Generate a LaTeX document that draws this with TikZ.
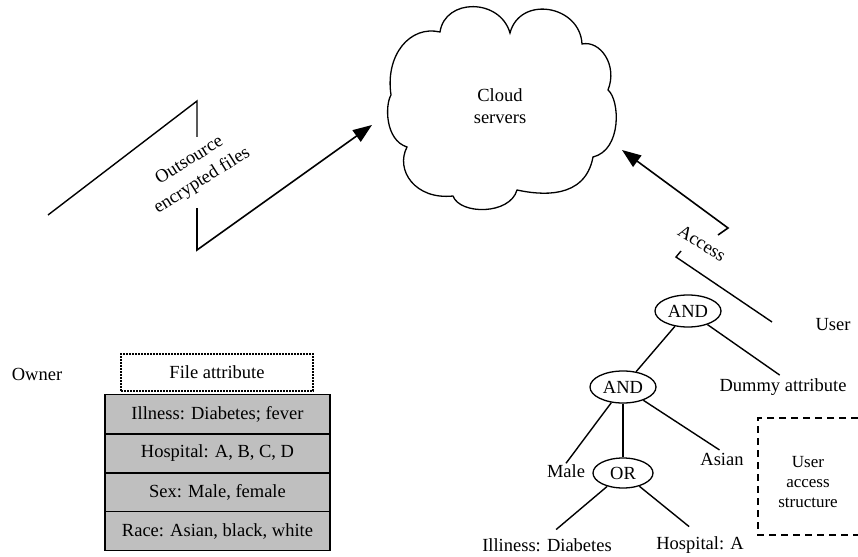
\documentclass[tikz,border=0pt]{standalone}
\usepackage{fontspec}
\setmainfont{Liberation Serif}
\usetikzlibrary{shapes.geometric,arrows.meta}

\tikzset{
  gate/.style={draw, ellipse, line width=1.3pt, minimum width=66pt, minimum height=32pt, inner sep=0pt},
  leaf/.style={inner sep=1pt},
  row/.style={draw, fill=black!25, line width=1.3pt, minimum width=225pt, minimum height=39pt, inner sep=0pt},
  link/.style={line width=1.4pt},
  flow/.style={line width=1.6pt, -{Triangle[length=19pt,width=14pt]}},
}

\begin{document}
\begin{tikzpicture}[x=1pt,y=-1pt,font=\fontsize{18.5}{22}\selectfont]
\useasboundingbox (0,0) rectangle (858,556);
% cloud
\draw[line width=1.3pt] (440,32) .. controls (445,-2) and (500,-2) .. (510,33)
  .. controls (520,-5) and (580,5) .. (582,44)
  .. controls (600,40) and (618,65) .. (608,90)
  .. controls (620,100) and (622,150) .. (593,157)
  .. controls (585,200) and (540,195) .. (517,190)
  .. controls (510,215) and (460,215) .. (453,196)
  .. controls (415,200) and (395,170) .. (407,147)
  .. controls (385,140) and (385,105) .. (391,95)
  .. controls (385,55) and (410,25) .. (440,32) -- cycle;
\node[align=center] (cloud) at (500,106) {Cloud\\servers};

% outsource
\coordinate (o1) at (48,215);
\coordinate (o2) at (197,101);
\coordinate (o3) at (197,137);
\coordinate (o4) at (197,208);
\coordinate (o5) at (197,250);
\coordinate (o6) at (372,125);
\draw[link] (o1) -- (o2) -- (o3);
\draw[flow] (o4) -- (o5) -- (o6);
\node[rotate=32, align=center, font=\fontsize{18.5}{24}\selectfont] (outsrc) at (196,171) {Outsource\\encrypted files};

% access
\coordinate (a1) at (718,235);
\coordinate (a2) at (728,228);
\coordinate (a3) at (622,150);
\coordinate (a4) at (681,251);
\coordinate (a5) at (676,257);
\coordinate (a6) at (772,322);
\draw[flow] (a1) -- (a2) -- (a3);
\draw[link] (a4) -- (a5) -- (a6);
\node[rotate=-32] (access) at (702,243) {Access};
\node (user) at (833,325) {User};

% tree
\node[gate] (and1) at (688,311) {AND};
\node[gate] (and2) at (623,387) {AND};
\node[gate, minimum width=60pt, minimum height=30pt] (or) at (623,473) {OR};
\node[leaf] (dummy) at (783,387) {Dummy attribute};
\node[leaf] (male) at (566,471) {Male};
\node[leaf] (asian) at (722,459) {Asian};
\node[leaf] (illness) at (547,545) {Illiness: Diabetes};
\node[leaf] (hosp) at (700,545) {Hospital: A};
\draw[link] (and1) -- (and2);
\draw[link, shorten >=4pt] (and1) -- (dummy.north);
\draw[link] (and2) -- (male.north);
\draw[link] (and2) -- (or);
\draw[link, shorten >=3pt] (and2) -- (asian.north);
\draw[link, shorten >=12pt] (or) -- (illness.north);
\draw[link, shorten >=14pt] (or) -- (hosp.north);

\node[align=center, font=\fontsize{17}{20}\selectfont] (uas) at (808,482) {User\\access\\structure};
\draw[line width=1.3pt, dash pattern=on 7pt off 5pt] (858,418) -| (758,535) -- (858,535);

% owner side
\node (owner) at (37,374) {Owner};
\node[draw, line width=1.3pt, dash pattern=on 2pt off 1pt, minimum width=192pt, minimum height=37pt] (fileattr) at (217,372.5) {File attribute};
\node[row] (row1) at (217.5,414) {Illness: Diabetes; fever};
\node[row] (row2) at (217.5,453.5) {Hospital: A, B, C, D};
\node[row] (row3) at (217.5,492.5) {Sex: Male, female};
\node[row] (row4) at (217.5,531) {Race: Asian, black, white};
\end{tikzpicture}
\end{document}
